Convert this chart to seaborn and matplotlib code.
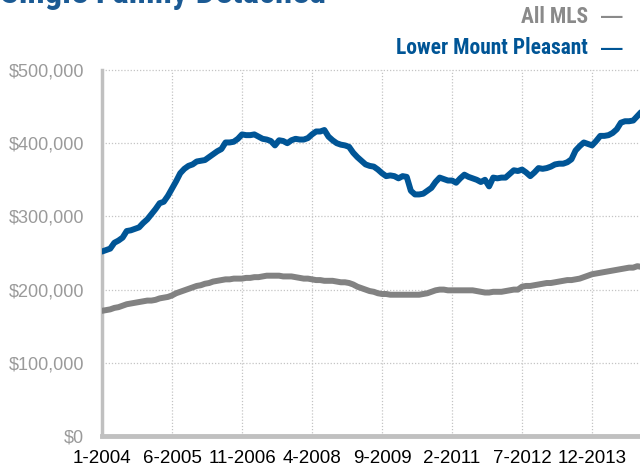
import matplotlib
matplotlib.use("Agg")
import matplotlib.pyplot as plt
import matplotlib.font_manager as fm
import numpy as np
import pandas as pd
import seaborn as sns

# ---- data (values in $ thousands, monthly from Jan 2004) ----
tick_labels = ["1-2004", "6-2005", "11-2006", "4-2008", "9-2009",
               "2-2011", "7-2012", "12-2013"]
y_ticks = [0, 100000, 200000, 300000, 400000, 500000]
series_names = ["All MLS", "Lower Mount Pleasant"]

lower_mount_pleasant = [
    252, 254, 256, 264, 267, 271, 280, 281, 283, 285, 291, 296,
    303, 310, 318, 320, 328, 338, 348, 359, 365, 369, 371, 375,
    376, 377, 381, 385, 389, 392, 401, 401, 402, 406, 412, 411,
    411, 412, 409, 406, 405, 403, 397, 404, 403, 400, 404, 406,
    405, 405, 407, 412, 416, 416, 418, 409, 404, 400, 398, 397,
    395, 387, 381, 376, 371, 369, 368, 364, 359, 355, 356, 355,
    352, 355, 354, 335, 330, 330, 331, 335, 339, 347, 353, 351,
    349, 349, 346, 352, 357, 354, 352, 350, 347, 350, 341, 353,
    352, 353, 353, 358, 363, 362, 364, 360, 355, 360, 366, 365,
    366, 368, 371, 372, 372, 374, 378, 390, 396, 401, 399, 397,
    403, 410, 410, 411, 414, 419, 428, 430, 430, 431, 437, 443,
]
all_mls = [
    171, 172, 173, 175, 176, 178, 180, 181, 182, 183, 184, 185,
    185, 186, 188, 189, 190, 192, 195, 197, 199, 201, 203, 205,
    206, 208, 209, 211, 212, 213, 214, 214, 215, 215, 215, 216,
    216, 217, 217, 218, 219, 219, 219, 219, 218, 218, 218, 217,
    216, 215, 215, 214, 213, 213, 212, 212, 212, 211, 210, 210,
    209, 207, 204, 202, 200, 198, 197, 195, 194, 194, 193, 193,
    193, 193, 193, 193, 193, 193, 194, 195, 197, 199, 200, 200,
    199, 199, 199, 199, 199, 199, 199, 198, 197, 196, 196, 197,
    197, 197, 198, 199, 200, 200, 204, 205, 205, 206, 207, 208,
    209, 209, 210, 211, 212, 213, 213, 214, 215, 217, 219, 221,
    222, 223, 224, 225, 226, 227, 228, 229, 230, 230, 232, 231,
]

# ---- build table ----
n = len(all_mls)
df = pd.DataFrame({
    "month": list(range(n)) * 2,
    "price": [v * 1000 for v in all_mls] + [v * 1000 for v in lower_mount_pleasant],
    "series": [series_names[0]] * n + [series_names[1]] * n,
})
tick_pos = [(int(l.split("-")[1]) - 2004) * 12 + int(l.split("-")[0]) - 1
            for l in tick_labels]

sns.set_style("white")

names = {f.name for f in fm.fontManager.ttflist}
narrow = [f for f in ["Liberation Sans Narrow", "Roboto Condensed", "DejaVu Sans"] if f in names]
base = "Liberation Sans" if "Liberation Sans" in names else "DejaVu Sans"
plt.rcParams["font.family"] = [base, "DejaVu Sans"]

BLUE = "#005596"
GRAY = "#828282"

fig = plt.figure(figsize=(6.4, 4.7), dpi=100)
ax = fig.add_axes([102 / 640, 34 / 470, 1 - 102 / 640, 366 / 470])

sns.lineplot(data=df, x="month", y="price", hue="series",
             palette={series_names[0]: GRAY, series_names[1]: BLUE},
             linewidth=4.3, legend=False, ax=ax, zorder=3)

ax.set_xlim(0, 538 / 4.118)
ax.set_ylim(0, 500000)
ax.set_xticks(tick_pos)
ax.set_xticklabels(tick_labels)
ax.set_yticks(y_ticks)
ax.set_yticklabels(["${:,.0f}".format(v) for v in y_ticks])
ax.set_xlabel("")
ax.set_ylabel("")

ax.grid(True, linestyle=(0, (1, 1.5)), color="#c4c4c4", linewidth=0.9)
for gl in ax.get_ygridlines() + ax.get_xgridlines():
    gl.set_clip_on(False)

for s in ["top", "right"]:
    ax.spines[s].set_visible(False)
ax.spines["left"].set_color("#c0c0c0")
ax.spines["left"].set_linewidth(2.5)
ax.spines["bottom"].set_color("#c0c0c0")
ax.spines["bottom"].set_linewidth(3.5)
ax.spines["bottom"].set_zorder(4)

ax.tick_params(axis="x", length=4, width=3, color="#c0c0c0", pad=6,
               labelsize=13.5, labelcolor="black")
ax.tick_params(axis="y", length=0, pad=13, labelsize=13, labelcolor="#9a9a9a")

# title (cut off at the top, as in the reference)
fig.text(0.0, 1 - 3 / 470, "Single Family Detached", fontsize=25,
         fontweight="bold", color="#1b5a94", ha="left", va="baseline",
         family=narrow)

# legend as text
fig.text(588 / 640, 1 - 17 / 470, series_names[0], ha="right", va="center",
         fontsize=15.5, fontweight="bold", color="#8a8a8a", family=narrow)
fig.text(601 / 640, 1 - 18 / 470, "—", ha="left", va="center",
         fontsize=15.5, fontweight="bold", color="#8a8a8a")
fig.text(588 / 640, 1 - 48 / 470, series_names[1], ha="right", va="center",
         fontsize=15.5, fontweight="bold", color=BLUE, family=narrow)
fig.text(601 / 640, 1 - 49 / 470, "—", ha="left", va="center",
         fontsize=15.5, fontweight="bold", color=BLUE)

fig.savefig("out.png", dpi=100)
